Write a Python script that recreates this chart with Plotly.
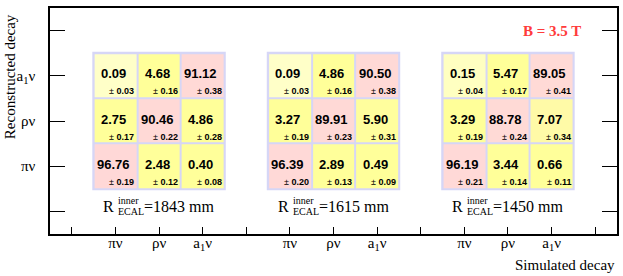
import plotly.graph_objects as go

# ---------------- data ----------------
decays = ["πν", "ρν", "a<sub>1</sub>ν"]          # simulated (x) / reconstructed (y)
radii = ["1843", "1615", "1450"]                    # R_ECAL^inner in mm
# rows: reconstructed πν, ρν, a1ν ; columns: simulated πν, ρν, a1ν
vals_1843 = [[96.76, 2.48, 0.40], [2.75, 90.46, 4.86], [0.09, 4.68, 91.12]]
errs_1843 = [[0.19, 0.12, 0.08], [0.17, 0.22, 0.28], [0.03, 0.16, 0.38]]
vals_1615 = [[96.39, 2.89, 0.49], [3.27, 89.91, 5.90], [0.09, 4.86, 90.50]]
errs_1615 = [[0.20, 0.13, 0.09], [0.19, 0.23, 0.31], [0.03, 0.16, 0.38]]
vals_1450 = [[96.19, 3.44, 0.66], [3.29, 88.78, 7.07], [0.15, 5.47, 89.05]]
errs_1450 = [[0.21, 0.14, 0.11], [0.19, 0.24, 0.34], [0.04, 0.17, 0.41]]
field_label = "B = 3.5 T"

matrices = [(vals_1843, errs_1843), (vals_1615, errs_1615), (vals_1450, errs_1450)]

SERIF = "Liberation Serif, Times New Roman, serif"
SANS = "Liberation Sans, Arial, sans-serif"
colorscale = [[0, "#ffffd2"], [0.0018, "#ffffbe"], [0.004, "#ffff9a"], [0.055, "#ffff99"],
              [0.075, "#fff8ab"], [0.3, "#ffe2cc"], [1, "#ffd8d8"]]

fig = go.Figure()
annotations = []
shapes = []
ys = [1, 2, 3]
for m, (vals, errs) in enumerate(matrices):
    xs = [1 + 4 * m + i for i in range(3)]
    # lavender background for cell borders
    shapes.append(dict(type="rect", xref="x", yref="y", layer="below",
                       x0=xs[0] - 0.53, x1=xs[-1] + 0.53, y0=ys[0] - 0.53, y1=ys[-1] + 0.53,
                       fillcolor="#d6d6f6", line=dict(width=0)))
    fig.add_trace(go.Heatmap(x=xs, y=ys, z=vals, zmin=0, zmax=100, colorscale=colorscale,
                             showscale=False, xgap=2, ygap=2, hoverinfo="skip"))
    for r in range(3):
        for c in range(3):
            annotations.append(dict(x=xs[c], y=ys[r], xref="x", yref="y",
                                    text=f"<b>{vals[r][c]:.2f}</b>", showarrow=False,
                                    xshift=-2, yshift=2,
                                    font=dict(family=SANS, size=13, color="black")))
            annotations.append(dict(x=xs[c] + 0.48, y=ys[r] - 0.345, xref="x", yref="y",
                                    text=f"± <b>{errs[r][c]:.2f}</b>", showarrow=False,
                                    xanchor="right", yanchor="middle",
                                    font=dict(family=SANS, size=9, color="black")))
    cx = xs[1]
    annotations += [
        dict(x=cx, y=0.1, xref="x", yref="y", text="R", showarrow=False, xanchor="right",
             xshift=-43, font=dict(family=SERIF, size=16, color="black")),
        dict(x=cx, y=0.24, xref="x", yref="y", text="inner", showarrow=False, xanchor="left",
             xshift=-43, font=dict(family=SERIF, size=10, color="black")),
        dict(x=cx, y=-0.01, xref="x", yref="y", text="ECAL", showarrow=False, xanchor="left",
             xshift=-43, font=dict(family=SERIF, size=10, color="black")),
        dict(x=cx, y=0.1, xref="x", yref="y", text=f"={radii[m]} mm", showarrow=False,
             xanchor="left", xshift=-17, font=dict(family=SERIF, size=16, color="black")),
    ]

annotations += [
    dict(x=11, y=4.0, xref="x", yref="y", text=f"<b>{field_label}</b>", showarrow=False,
         xanchor="center", font=dict(family=SERIF, size=15, color="#ff3b3b")),
    dict(x=1, y=0, xref="paper", yref="paper", text="Simulated decay", showarrow=False,
         xanchor="right", yanchor="middle", yshift=-31,
         font=dict(family=SERIF, size=15, color="black")),
    dict(x=0, y=2.97, xref="paper", yref="y", text="Reconstructed decay", showarrow=False,
         textangle=-90, xanchor="center", yanchor="middle", xshift=-40,
         font=dict(family=SERIF, size=15, color="black")),
]

xtickvals = list(range(13))
xticktext = []
for k in xtickvals:
    xticktext.append("" if k % 4 == 0 else decays[k % 4 - 1])
ytickvals = list(range(5))
yticktext = [""] + decays + [""]

fig.update_layout(
    width=623, height=276, margin=dict(l=50, r=6, t=8, b=42),
    plot_bgcolor="white", paper_bgcolor="white",
    annotations=annotations, shapes=shapes, showlegend=False,
    xaxis=dict(range=[-0.5, 12.5], tickvals=xtickvals, ticktext=xticktext,
               ticks="inside", ticklen=7, tickwidth=1.2, tickcolor="black",
               showline=True, linecolor="black", linewidth=1.5, mirror=True,
               showgrid=False, zeroline=False, ticklabelstandoff=-6, automargin=False,
               tickfont=dict(family=SERIF, size=15, color="black")),
    yaxis=dict(range=[-0.5, 4.5], tickvals=ytickvals, ticktext=yticktext,
               ticks="inside", ticklen=15, tickwidth=1.2, tickcolor="black",
               showline=True, linecolor="black", linewidth=1.5, mirror="ticks",
               showgrid=False, zeroline=False, ticklabelstandoff=10, automargin=False,
               tickfont=dict(family=SERIF, size=15, color="black")),
)

fig.write_html("out.html", config={"displayModeBar": False},
               post_script="document.body.style.margin='0';document.body.style.overflow='hidden';")
